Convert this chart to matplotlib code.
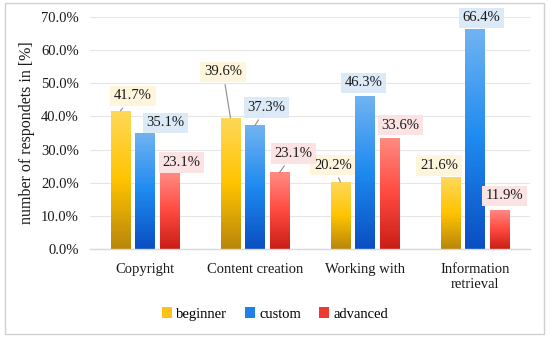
import matplotlib
matplotlib.use("Agg")
import matplotlib.pyplot as plt
import numpy as np
from matplotlib.colors import LinearSegmentedColormap
from matplotlib.patches import Rectangle, Patch

categories = ["Copyright", "Content creation", "Working with", "Information\nretrieval"]
series_names = ["beginner", "custom", "advanced"]
beginner = [41.7, 39.6, 20.2, 21.6]
custom = [35.1, 37.3, 46.3, 66.4]
advanced = [23.1, 23.1, 33.6, 11.9]
yticks = [0, 10, 20, 30, 40, 50, 60, 70]

plt.rcParams['font.family'] = ['Liberation Serif', 'DejaVu Serif']

fig = plt.figure(figsize=(5.5, 3.4), dpi=100)
ax = fig.add_axes([90/550, 1-249/340, 440/550, (249-17)/340])

grads = [
    ["#FFD85A", "#FFC400", "#B8860B"],
    ["#72B4F2", "#1E8AF0", "#0A4EC2"],
    ["#FF8C84", "#FF4A40", "#C81E16"],
]
legend_cols = ["#FFC21A", "#1E80EA", "#F03A30"]
box_cols = ["#FFF5DC", "#DCEAF8", "#FCE3E3"]

width = 0.173
offs = [-0.223, 0.0, 0.223]
x = np.arange(len(categories))
all_series = [beginner, custom, advanced]

ax.set_xlim(-0.5, 3.5)
ax.set_ylim(0, 70)

bars_all = []
for si, vals in enumerate(all_series):
    cmap = LinearSegmentedColormap.from_list("g%d" % si, grads[si][::-1])
    bars = ax.bar(x + offs[si], vals, width, color="none", edgecolor="none", zorder=2)
    bars_all.append(bars)
    grad = np.linspace(0, 1, 256).reshape(-1, 1)
    for b in bars:
        x0, y0 = b.get_x(), b.get_y()
        w, h = b.get_width(), b.get_height()
        im = ax.imshow(grad, cmap=cmap, origin="lower", aspect="auto",
                       extent=[x0, x0 + w, y0, y0 + h], zorder=2, interpolation="bilinear")
        im.set_clip_path(b)

ax.set_xlim(-0.5, 3.5)
ax.set_ylim(0, 70)

# label offsets in pixels (dx, dy) and leader flag
label_offsets = [
    [(12.5, 15, True), (-7.5, 46, True), (-7.5, 17, True), (-11.5, 12, False)],
    [(20.5, 10, False), (11.5, 18, True), (-1.5, 12.6, False), (6.5, 11, False)],
    [(12, 10, False), (14, 19, True), (11, 12.6, False), (5, 13.6, False)],
]
px2pt = 0.72
for si, bars in enumerate(bars_all):
    for ci, b in enumerate(bars):
        v = all_series[si][ci]
        dx, dy, lead = label_offsets[si][ci]
        xc = b.get_x() + b.get_width() / 2
        ap = None
        if lead:
            ap = dict(arrowstyle="-", color="#8C8C8C", lw=0.8, shrinkA=2, shrinkB=0)
        ax.annotate(f"{v:.1f}%", xy=(xc, v), xytext=(dx * px2pt, dy * px2pt),
                    textcoords="offset points", ha="center", va="center",
                    fontsize=10.5, color="#1a1a1a", zorder=5,
                    bbox=dict(boxstyle="square,pad=0.25", fc=box_cols[si], ec="none"),
                    arrowprops=ap)

ax.set_yticks(yticks)
ax.set_yticklabels([f"{t:.1f}%" for t in yticks])
ax.set_xticks(x)
ax.set_xticklabels(categories)
ax.tick_params(axis="both", length=0, labelsize=10.5, colors="#1a1a1a")
ax.tick_params(axis="x", pad=10)
ax.tick_params(axis="y", pad=8)
ax.grid(axis="y", color="#E6E6E6", lw=0.8, zorder=0)
ax.set_axisbelow(True)
for s in ["top", "right", "left"]:
    ax.spines[s].set_visible(False)
ax.spines["bottom"].set_color("#D9D9D9")
ax.spines["bottom"].set_linewidth(1.0)
ax.set_ylabel("number of respondets in [%]", fontsize=11.5, color="#1a1a1a", labelpad=4)

handles = [Patch(facecolor=legend_cols[i], edgecolor="none", label=series_names[i]) for i in range(3)]
fig.legend(handles=handles, loc="center", bbox_to_anchor=(0.5, 1-314/340), ncol=3,
           frameon=False, fontsize=10.5, handlelength=0.7, handleheight=0.7,
           handletextpad=0.3, columnspacing=1.2)

fig.patches.append(Rectangle((5/550, 1-334/340), 539/550, 331/340, transform=fig.transFigure,
                             fill=False, ec="#D0D0D0", lw=1.0))

fig.savefig("out.png", dpi=100, facecolor="white")
